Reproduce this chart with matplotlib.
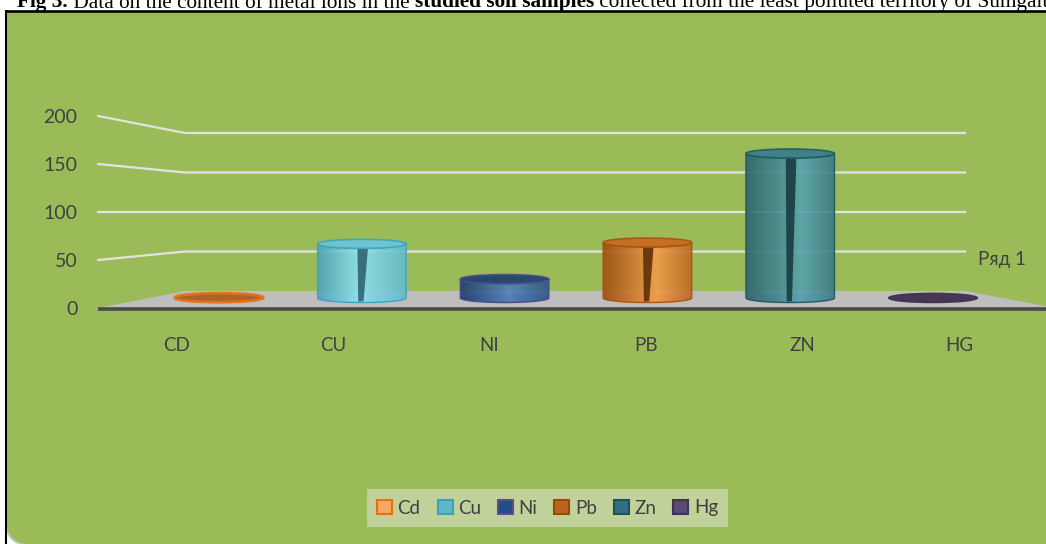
import numpy as np
import matplotlib.pyplot as plt
from matplotlib.patches import Polygon, Ellipse, Patch
from matplotlib.colors import LinearSegmentedColormap, to_rgb

W, H = 1046, 544

metals = ["Cd", "Cu", "Ni", "Pb", "Zn", "Hg"]
categories = ["CD", "CU", "NI", "PB", "ZN", "HG"]
values = [0.4, 63, 22, 64.5, 168, 0.1]
y_ticks = [0, 50, 100, 150, 200]
series_name = "Ряд 1"

# cylinder shading per metal
side_dark = ["#B4560E", "#4AA3B9", "#18396A", "#9C4A0C", "#28606B", "#3A2C4C"]
side_light = ["#F59A4A", "#8CE2F2", "#4E80BC", "#F49C48", "#56A3B1", "#5E4E7A"]
highlight_at = [0.5, 0.45, 0.55, 0.6, 0.62, 0.5]
rim = ["#E8700F", "#3FA3C2", "#4E4A8E", "#A9550F", "#245A66", "#3F3151"]
cap_fill = ["#A85E2A", "#68C6DA", "#1D3F70", "#C8691F", "#3A7D89", "#3F3151"]
legend_fill = ["#F8A862", "#5DB6CB", "#234C8A", "#BF6420", "#2E717F", "#5A4A78"]
legend_edge = ["#E8700F", "#3AA0C0", "#5E4A8C", "#984807", "#1E4F5E", "#3F3151"]

plt.rcParams['font.family'] = ['Lato', 'Open Sans', 'DejaVu Sans']
text_grey = "#404040"

fig = plt.figure(figsize=(W / 100, H / 100), dpi=100, facecolor="white")


def box(x0, y0, x1, y1):
    # pixel box (origin top-left) -> figure fraction rect
    return [x0 / W, 1 - y1 / H, (x1 - x0) / W, (y1 - y0) / H]


# background layer in pixel units
ax_bg = fig.add_axes([0, 0, 1, 1], zorder=0)
ax_bg.set_xlim(0, W)
ax_bg.set_ylim(H, 0)
ax_bg.set_axis_off()

# front edge of the plot: value axis and category labels
ax_front = fig.add_axes(box(98.3, 116, 1037.3, 308), zorder=2)
ax_front.set_xlim(-0.5, 5.5)
ax_front.set_ylim(0, 200)
# back wall
ax_back = fig.add_axes(box(185, 133, 965, 291), zorder=1)
ax_back.set_xlim(0, 1)
ax_back.set_ylim(0, 200)
ax_back.set_axis_off()
# depth where the cylinders stand
ax_mid = fig.add_axes(box(147.6, 108.8, 1004.4, 315.2), zorder=3)
ax_mid.set_axis_off()


def to_bg(ax, x, y):
    return ax_bg.transData.inverted().transform(ax.transData.transform((x, y)))


# green panel with rounded lower-left corner
r = 20
th = np.linspace(0, np.pi / 2, 30)
corner = np.column_stack([27 - r * np.sin(th), (H - r) + r * np.cos(th)])
panel = np.vstack([[[7, 12], [W + 2, 12], [W + 2, H + 2], [27, H + 2]], corner, [[7, 12]]])
shadow = panel + [-1.5, 1.5]
ax_bg.add_patch(Polygon(shadow, closed=True, fc="#C4C4C4", ec="none", zorder=0))
ax_bg.add_patch(Polygon(panel, closed=True, fc="#9BBB59", ec="none", zorder=1))
ax_bg.plot([5, W], [11, 11], color="black", lw=1.9, solid_capstyle="butt", zorder=5)
ax_bg.plot([6, 6], [10, H], color="black", lw=1.5, solid_capstyle="butt", zorder=5)

# gridlines running from the front edge to the back wall
for v in y_ticks[1:]:
    pts = np.array([to_bg(ax_front, -0.5, v), to_bg(ax_back, 0, v), to_bg(ax_back, 1, v)])
    ax_bg.plot(pts[:, 0], pts[:, 1], color="#E2E2E2", lw=1.6, zorder=2)

# floor
fl = np.array([to_bg(ax_front, -0.5, 0), to_bg(ax_back, 0, 0),
               to_bg(ax_back, 1, 0), to_bg(ax_front, 5.62, 0)])
ax_bg.add_patch(Polygon(fl, closed=True, fc="#BEBEBE", ec="none", zorder=3))
ax_bg.plot([fl[0, 0], W], [fl[0, 1] + 0.8, fl[0, 1] + 0.8], color="#4A4A4A", lw=2.6,
           solid_capstyle="butt", zorder=4)

# cylinders
w = 0.62
eh = 10.5
t = np.linspace(np.pi, 2 * np.pi, 60)
grad = np.linspace(0, 1, 256)[None, :]
for i, v in enumerate(values):
    x0, x1 = i - w / 2, i + w / 2
    arc_x = i + w / 2 * np.cos(t)
    side = np.vstack([np.column_stack([arc_x, eh / 2 * np.sin(t)]),
                      np.column_stack([arc_x[::-1], v + eh / 2 * np.sin(t)[::-1]])])
    ax_mid.add_patch(Ellipse((i, 0), w, eh, fc=cap_fill[i], ec="none", alpha=0.35, zorder=1))
    if v > 1:
        dark = to_rgb(side_dark[i])
        light = to_rgb(side_light[i])
        edge_mix = tuple(0.65 * d + 0.35 * l for d, l in zip(dark, light))
        cmap = LinearSegmentedColormap.from_list(
            metals[i], [(0, dark), (highlight_at[i], light), (1, edge_mix)])
        side_patch = Polygon(side, closed=True, fc="none", ec=rim[i], lw=1.0, zorder=3)
        ax_mid.add_patch(side_patch)
        img = ax_mid.imshow(grad, cmap=cmap, extent=(x0, x1, -eh / 2, v), aspect="auto",
                            origin="lower", alpha=0.88, zorder=2, interpolation="bilinear")
        img.set_clip_path(side_patch)
        if v > 2 * eh and metals[i] != "Ni":
            seam_col = tuple(c * 0.62 for c in dark)
            fx = lambda f: x0 + f * w
            seam = [(fx(0.46), -eh / 2 + 1), (fx(0.52), -eh / 2 + 1.5),
                    (fx(0.57), v - eh / 2 + 1), (fx(0.45), v - eh / 2 + 2)]
            ax_mid.add_patch(Polygon(seam, closed=True, fc=seam_col, ec="none", alpha=0.9, zorder=2.5))
    lw_cap = 2.0 if metals[i] == "Cd" else 1.2
    ax_mid.add_patch(Ellipse((i, v), w, eh, fc=cap_fill[i], ec=rim[i], lw=lw_cap,
                             alpha=0.92, zorder=4))
ax_mid.set_xlim(-0.5, 5.5)
ax_mid.set_ylim(-20, 220)

# axis labels on the front edge
for s in ax_front.spines.values():
    s.set_visible(False)
ax_front.patch.set_visible(False)
ax_front.set_xticks(range(len(categories)))
ax_front.set_xticklabels(categories)
ax_front.set_yticks(y_ticks)
ax_front.tick_params(axis="x", length=0, pad=21, labelsize=13.5, labelcolor=text_grey)
ax_front.tick_params(axis="y", length=0, pad=15, labelsize=14, labelcolor=text_grey)

ax_bg.text(978, 259, series_name, ha="left", va="center", fontsize=13.5, color=text_grey, zorder=6)

# legend
handles = [Patch(facecolor=legend_fill[k], edgecolor=legend_edge[k], linewidth=1.5, label=metals[k])
           for k in range(len(metals))]
leg = ax_bg.legend(handles=handles, loc="center", bbox_to_anchor=(547.5 / W, 1 - 508 / H),
                   bbox_transform=fig.transFigure, ncol=6, frameon=True, facecolor="#C0D29A",
                   edgecolor="none", fancybox=False, framealpha=1, fontsize=13.5,
                   handlelength=0.8, handleheight=0.8, handletextpad=0.3, columnspacing=0.9,
                   borderpad=0.55, labelcolor=text_grey)
leg.set_zorder(10)

# caption above the panel, mixed bold/regular
parts = [("Fig 3.", "bold"), (" Data on the content of metal ions in the ", "normal"),
         ("studied soil samples", "bold"),
         (" collected from the least polluted territory of Sumgait", "normal")]
renderer = fig.canvas.get_renderer()
x = 17
for s, wgt in parts:
    txt = ax_bg.text(x, 7.5, s, family="Liberation Serif", fontsize=15.3, fontweight=wgt,
                     ha="left", va="baseline", color="black", zorder=6)
    x += txt.get_window_extent(renderer).width

fig.savefig("out.png", dpi=100, facecolor="white")
